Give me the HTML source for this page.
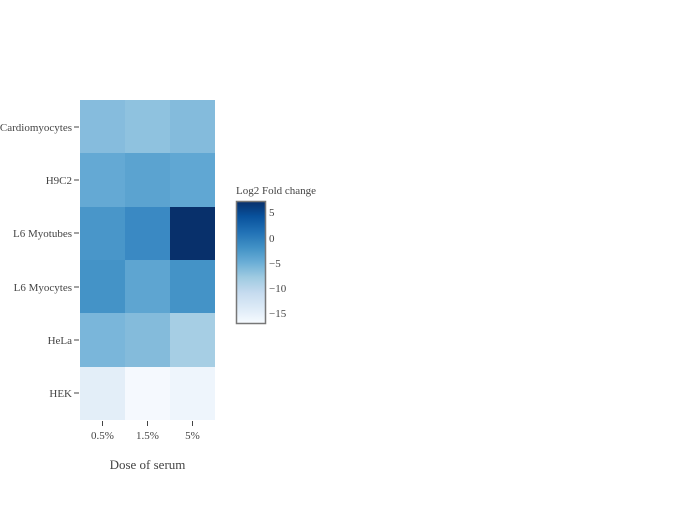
<!DOCTYPE html>
<html><head><style>
body{margin:0;background:#fff;width:700px;height:500px;overflow:hidden;font-family:"Liberation Serif",serif;}
</style></head><body>
<svg width="700" height="500" xmlns="http://www.w3.org/2000/svg" font-family="Liberation Serif, serif" fill="#444">
<defs><linearGradient id="g" x1="0" y1="0" x2="0" y2="1">
<stop offset="0" stop-color="#08306b"/><stop offset="0.12" stop-color="#08519c"/><stop offset="0.25" stop-color="#2171b5"/><stop offset="0.38" stop-color="#4292c6"/><stop offset="0.5" stop-color="#6baed6"/><stop offset="0.62" stop-color="#9ecae1"/><stop offset="0.75" stop-color="#c6dbef"/><stop offset="0.88" stop-color="#deebf7"/><stop offset="1" stop-color="#f7fbff"/>
</linearGradient></defs>
<g shape-rendering="crispEdges">
<rect x="80" y="100" width="45" height="54" fill="#86bcdd"/><rect x="125" y="100" width="45" height="54" fill="#8fc2df"/><rect x="170" y="100" width="45" height="54" fill="#84bbdc"/>
<rect x="80" y="153" width="45" height="54" fill="#64a9d4"/><rect x="125" y="153" width="45" height="54" fill="#5ba3d0"/><rect x="170" y="153" width="45" height="54" fill="#60a7d3"/>
<rect x="80" y="207" width="45" height="54" fill="#4996c9"/><rect x="125" y="207" width="45" height="54" fill="#3a89c3"/><rect x="170" y="207" width="45" height="54" fill="#08306b"/>
<rect x="80" y="260" width="45" height="54" fill="#4493c7"/><rect x="125" y="260" width="45" height="54" fill="#5ea5d1"/><rect x="170" y="260" width="45" height="54" fill="#4493c7"/>
<rect x="80" y="313" width="45" height="54" fill="#7ab6da"/><rect x="125" y="313" width="45" height="54" fill="#84bbdb"/><rect x="170" y="313" width="45" height="54" fill="#a6cee4"/>
<rect x="80" y="367" width="45" height="53" fill="#e3eef8"/><rect x="125" y="367" width="45" height="53" fill="#f5f9fe"/><rect x="170" y="367" width="45" height="53" fill="#eef5fc"/>
</g>
<g stroke="#444" stroke-width="1">
<line x1="74" x2="79" y1="127" y2="127"/><line x1="74" x2="79" y1="180" y2="180"/><line x1="74" x2="79" y1="233" y2="233"/><line x1="74" x2="79" y1="287" y2="287"/><line x1="74" x2="79" y1="340" y2="340"/><line x1="74" x2="79" y1="393" y2="393"/>
<line x1="102.5" x2="102.5" y1="421" y2="426"/><line x1="147.5" x2="147.5" y1="421" y2="426"/><line x1="192.5" x2="192.5" y1="421" y2="426"/>
</g>
<g font-size="11" text-anchor="end">
<text x="72" y="131">Cardiomyocytes</text><text x="72" y="184">H9C2</text><text x="72" y="237">L6 Myotubes</text><text x="72" y="291">L6 Myocytes</text><text x="72" y="344">HeLa</text><text x="72" y="397">HEK</text>
</g>
<g font-size="11" text-anchor="middle">
<text x="102.5" y="439">0.5%</text><text x="147.5" y="439">1.5%</text><text x="192.5" y="439">5%</text>
</g>
<text x="147.5" y="469" font-size="13" text-anchor="middle">Dose of serum</text>
<text x="236" y="194" font-size="11">Log2 Fold change</text>
<rect x="236.5" y="201.5" width="29" height="122" fill="url(#g)" stroke="#777" stroke-width="1.5"/>
<g font-size="11">
<text x="269" y="216">5</text><text x="269" y="242">0</text><text x="269" y="267">−5</text><text x="269" y="292">−10</text><text x="269" y="317">−15</text>
</g>
</svg>
</body></html>
